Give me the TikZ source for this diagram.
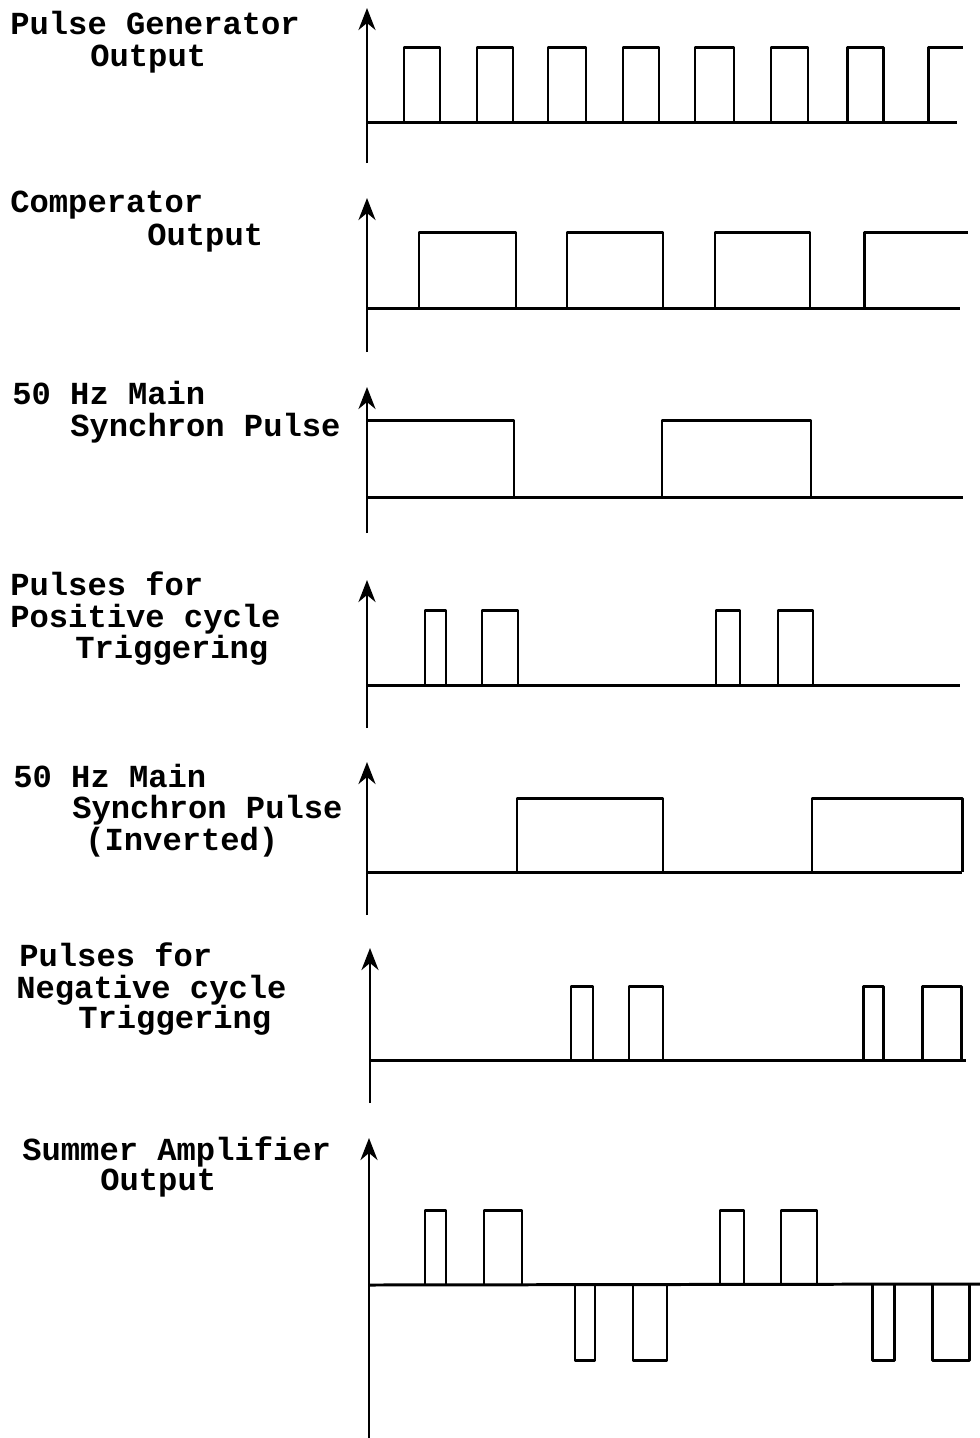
\documentclass[tikz,border=0pt]{standalone}
\usepackage{fontspec}
\newfontfamily\typefont{Liberation Mono}
\usetikzlibrary{arrows.meta}

\begin{document}
\begin{tikzpicture}[x=0.02cm,y=-0.02cm,
	sig/.style={line width=1.7pt,line join=round},
	yaxis/.style={line width=1.7pt,-{Stealth[length=4.4mm,width=3.4mm,inset=1.4mm]}},
	lbl/.style={anchor=base west,inner sep=0pt,font=\typefont\bfseries\fontsize{18.3}{18}\selectfont}]
\useasboundingbox (0,0) rectangle (980,1438);

% pulse generator
\node[lbl] (pgen1) at (10,34) {Pulse Generator};
\node[lbl] (pgen2) at (90,66) {Output};
\draw[yaxis] (367,163) -- (367,8);
\draw[sig] (367,122) -- (957,122);
	\foreach \a/\b in {404/440,477/513,548/586,623/659,695/734,771/808,847/883} {
		\draw[sig] (\a,122) |- (\b,47) -- (\b,122);
		}
\draw[sig] (928,122) |- (963,47);

% comperator
\node[lbl] (comp1) at (10,212) {Comperator};
\node[lbl] (comp2) at (147,245) {Output};
\draw[yaxis] (367,352) -- (367,198);
\draw[sig] (367,308) -- (960,308);
	\foreach \a/\b in {419/516,567/663,715/810} {
		\draw[sig] (\a,308) |- (\b,232) -- (\b,308);
		}
\draw[sig] (864,308) |- (968,232);

% 50 Hz sync
\node[lbl] (sync1) at (12,404) {50 Hz Main};
\node[lbl] (sync2) at (70,436) {Synchron Pulse};
\draw[yaxis] (367,533) -- (367,387);
\draw[sig] (367,497) -- (963,497);
\draw[sig] (367,420) -- (514,420) -- (514,497);
\draw[sig] (662,497) |- (811,420) -- (811,497);

% positive cycle
\node[lbl] (pos1) at (10,595) {Pulses for};
\node[lbl] (pos2) at (10,627) {Positive cycle};
\node[lbl] (pos3) at (75,658) {Triggering};
\draw[yaxis] (367,728) -- (367,580);
\draw[sig] (367,685) -- (960,685);
	\foreach \a/\b in {425/446,482/518,716/740,778/813} {
		\draw[sig] (\a,685) |- (\b,610) -- (\b,685);
		}

% 50 Hz sync inverted
\node[lbl] (inv1) at (13,787) {50 Hz Main};
\node[lbl] (inv2) at (72,818) {Synchron Pulse};
\node[lbl] (inv3) at (85,850) {(Inverted)};
\draw[yaxis] (367,915) -- (367,762);
\draw[sig] (367,872) -- (962,872);
	\foreach \a/\b in {517/663,812/962} {
		\draw[sig] (\a,872) |- (\b,798) -- (\b,872);
		}

% negative cycle
\node[lbl] (neg1) at (19,966) {Pulses for};
\node[lbl] (neg2) at (16,998) {Negative cycle};
\node[lbl] (neg3) at (78,1028) {Triggering};
\draw[yaxis] (370,1103) -- (370,948);
\draw[sig] (370,1060) -- (966,1060);
	\foreach \a/\b in {571/593,629/663,863/883,922/961} {
		\draw[sig] (\a,1060) |- (\b,986) -- (\b,1060);
		}

% summer amplifier
\node[lbl] (sum1) at (22,1160) {Summer Amplifier};
\node[lbl] (sum2) at (100,1190) {Output};
\draw[yaxis] (369,1438) -- (369,1138);
\draw[sig] (369,1285) -- (980,1284);
	\foreach \a/\b in {425/446,484/522,720/744,781/817} {
		\draw[sig] (\a,1285) |- (\b,1210) -- (\b,1285);
		}
	\foreach \a/\b in {575/595,633/667,872/894,932/969} {
		\draw[sig] (\a,1284) |- (\b,1360) -- (\b,1284);
		}
\end{tikzpicture}
\end{document}
